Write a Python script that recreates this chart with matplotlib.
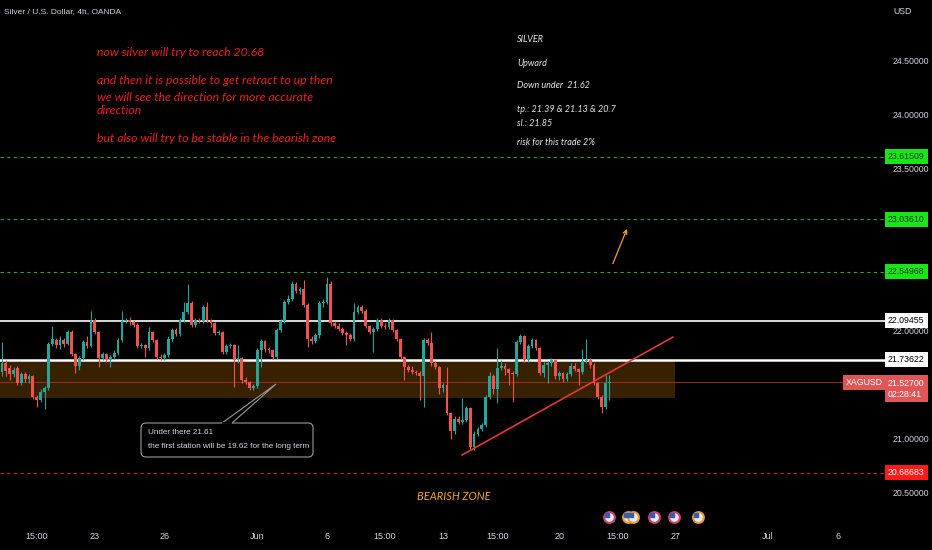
import numpy as np
import matplotlib
matplotlib.use("Agg")
import matplotlib.pyplot as plt
import matplotlib.transforms as mtransforms
from matplotlib.patches import Rectangle, FancyBboxPatch, Polygon

# XAGUSD 4h candles (one row = o, c, h, l)
opens = [21.62, 21.70, 21.66, 21.60, 21.66, 21.52, 21.60, 21.56, 21.58, 21.39,
         21.36, 21.44, 21.47, 21.88, 21.92, 21.87, 21.92, 21.88, 21.99, 21.79,
         21.68, 21.75, 21.90, 21.86, 22.10, 21.99, 21.75, 21.79, 21.73, 21.76,
         21.80, 21.92, 22.09, 22.10, 22.08, 22.06, 21.86, 21.87, 21.84, 21.99,
         21.92, 21.76, 21.75, 21.78, 21.93, 22.01, 21.97, 22.10, 22.18, 22.26,
         22.06, 22.10, 22.09, 22.22, 22.10, 22.07, 21.98, 21.99, 21.81, 21.86,
         21.87, 21.73, 21.75, 21.55, 21.53, 21.47, 21.49, 21.82, 21.91, 21.83,
         21.82, 21.76, 22.01, 22.09, 22.27, 22.30, 22.44, 22.37, 22.39, 22.24,
         21.93, 21.91, 21.96, 22.26, 22.27, 22.44, 22.07, 22.05, 22.02, 21.98,
         21.96, 21.93, 22.18, 22.22, 22.19, 22.05, 21.99, 22.02, 22.10, 22.05,
         22.04, 22.10, 22.01, 21.93, 21.76, 21.67, 21.64, 21.62, 21.61, 21.58,
         21.92, 21.89, 21.70, 21.67, 21.47, 21.50, 21.24, 21.07, 21.19, 21.16,
         21.18, 21.29, 20.93, 21.05, 21.09, 21.13, 21.39, 21.58, 21.46, 21.66,
         21.68, 21.65, 21.61, 21.60, 21.90, 21.95, 21.73, 21.86, 21.92, 21.84,
         21.61, 21.69, 21.70, 21.73, 21.58, 21.61, 21.56, 21.60, 21.68, 21.65,
         21.62, 21.72, 21.73, 21.69, 21.52, 21.39, 21.30, 21.52]
closes = [21.70, 21.63, 21.60, 21.64, 21.52, 21.60, 21.56, 21.58, 21.39, 21.36,
          21.44, 21.47, 21.88, 21.93, 21.87, 21.92, 21.88, 21.99, 21.79, 21.68,
          21.75, 21.90, 21.86, 22.10, 21.99, 21.75, 21.79, 21.73, 21.76, 21.80,
          21.92, 22.09, 22.10, 22.08, 22.06, 21.86, 21.87, 21.84, 21.99, 21.92,
          21.76, 21.75, 21.78, 21.93, 22.01, 21.97, 22.10, 22.18, 22.26, 22.06,
          22.10, 22.09, 22.22, 22.10, 22.07, 21.98, 21.99, 21.81, 21.86, 21.87,
          21.73, 21.75, 21.55, 21.53, 21.47, 21.49, 21.82, 21.91, 21.83, 21.82,
          21.76, 22.01, 22.09, 22.27, 22.30, 22.44, 22.37, 22.39, 22.24, 21.93,
          21.91, 21.96, 22.26, 22.27, 22.44, 22.07, 22.05, 22.02, 21.98, 21.96,
          21.93, 22.18, 22.22, 22.19, 22.05, 21.99, 22.02, 22.10, 22.05, 22.04,
          22.10, 22.01, 21.93, 21.76, 21.67, 21.64, 21.62, 21.61, 21.58, 21.92,
          21.89, 21.70, 21.67, 21.47, 21.50, 21.24, 21.07, 21.19, 21.16, 21.18,
          21.29, 20.93, 21.05, 21.09, 21.13, 21.39, 21.58, 21.46, 21.66, 21.68,
          21.65, 21.61, 21.60, 21.90, 21.95, 21.73, 21.86, 21.92, 21.84, 21.61,
          21.69, 21.70, 21.73, 21.58, 21.61, 21.56, 21.60, 21.68, 21.65, 21.62,
          21.72, 21.73, 21.69, 21.52, 21.39, 21.30, 21.52, 21.527]
highs = [21.90, 21.73, 21.69, 21.67, 21.68, 21.62, 21.62, 21.60, 21.59, 21.41,
         21.46, 21.49, 21.90, 22.05, 21.94, 21.95, 21.94, 22.01, 22.01, 21.80,
         21.77, 21.92, 21.95, 22.19, 22.12, 22.00, 21.81, 21.80, 21.78, 21.82,
         21.94, 22.19, 22.12, 22.13, 22.10, 22.07, 21.89, 21.88, 22.04, 22.00,
         21.93, 21.79, 21.80, 21.95, 22.03, 22.03, 22.12, 22.27, 22.44, 22.28,
         22.12, 22.12, 22.24, 22.27, 22.11, 22.08, 22.01, 22.00, 21.88, 21.89,
         21.88, 21.87, 21.76, 21.57, 21.54, 21.51, 21.84, 21.93, 21.92, 21.85,
         21.83, 22.03, 22.11, 22.29, 22.33, 22.46, 22.45, 22.41, 22.47, 22.26,
         21.95, 21.98, 22.28, 22.30, 22.50, 22.46, 22.09, 22.07, 22.04, 22.00,
         21.98, 22.26, 22.24, 22.24, 22.20, 22.06, 22.04, 22.12, 22.12, 22.07,
         22.12, 22.11, 22.02, 21.94, 21.77, 21.69, 21.68, 21.64, 21.63, 21.94,
         21.94, 21.99, 21.72, 21.68, 21.52, 21.67, 21.25, 21.21, 21.21, 21.38,
         21.31, 21.30, 21.07, 21.11, 21.15, 21.41, 21.62, 21.60, 21.84, 21.73,
         21.70, 21.66, 21.63, 21.92, 21.97, 21.96, 21.88, 21.94, 21.93, 21.85,
         21.71, 21.72, 21.75, 21.74, 21.63, 21.62, 21.62, 21.70, 21.70, 21.66,
         21.83, 21.93, 21.75, 21.70, 21.53, 21.41, 21.59, 21.59]
lows = [21.58, 21.58, 21.55, 21.57, 21.50, 21.50, 21.53, 21.52, 21.37, 21.30,
        21.34, 21.28, 21.45, 21.86, 21.84, 21.83, 21.85, 21.87, 21.77, 21.61,
        21.64, 21.73, 21.84, 21.85, 21.97, 21.67, 21.73, 21.71, 21.67, 21.74,
        21.78, 21.90, 22.07, 22.06, 22.04, 21.84, 21.84, 21.76, 21.82, 21.90,
        21.74, 21.73, 21.73, 21.76, 21.91, 21.95, 21.95, 22.08, 22.16, 22.04,
        22.04, 22.07, 22.07, 22.08, 22.04, 21.96, 21.96, 21.79, 21.79, 21.84,
        21.48, 21.70, 21.52, 21.51, 21.45, 21.45, 21.47, 21.67, 21.81, 21.80,
        21.74, 21.74, 21.99, 22.07, 22.25, 22.28, 22.35, 22.34, 22.22, 21.85,
        21.88, 21.89, 21.94, 22.22, 22.25, 22.05, 22.03, 22.00, 21.96, 21.87,
        21.91, 21.91, 22.16, 22.17, 22.03, 21.97, 21.81, 22.00, 22.03, 22.02,
        22.02, 21.99, 21.91, 21.74, 21.55, 21.62, 21.60, 21.59, 21.36, 21.30,
        21.87, 21.68, 21.65, 21.42, 21.44, 21.22, 21.00, 21.05, 21.14, 21.14,
        21.16, 20.91, 20.90, 21.03, 21.07, 21.11, 21.37, 21.42, 21.33, 21.64,
        21.59, 21.50, 21.34, 21.58, 21.88, 21.71, 21.71, 21.84, 21.82, 21.59,
        21.57, 21.52, 21.68, 21.56, 21.55, 21.53, 21.54, 21.58, 21.63, 21.50,
        21.60, 21.70, 21.66, 21.50, 21.37, 21.24, 21.28, 21.36]

tick_pos = [9, 24, 42, 66, 84, 99, 114, 128, 144, 159, 174, 198, 216]
tick_labels = ['15:00', '23', '26', 'Jun', '6', '15:00', '13', '15:00', '20',
               '15:00', '27', 'Jul', '6']
price_ticks = [24.5, 24.0, 23.5, 22.0, 21.0, 20.5]

green_levels = [23.61509, 23.03610, 22.54968]
white_levels = [22.09455, 21.73622]
last_price = 21.527
target_level = 20.68683
zone_low, zone_high, zone_end = 21.38, 21.73622, 173.9
trend_x = [118.9, 173.4]
trend_y = [20.852, 21.944]
arrow_from = (157.6, 22.60)
arrow_to = (161.8, 22.97)
event_x = [156.8, 161.8, 163.1, 168.5, 173.6, 179.8]
event_edge = ['#d04070', '#e8a030', '#e8a030', '#d04070', '#d04070', '#e8a030']

note_lines = ['now silver will try to reach 20.68',
              'and then it is possible to get retract to up then',
              'we will see the direction for more accurate',
              'direction',
              'but also will try to be stable in the bearish zone']
plan_lines = ['SILVER', 'Upward', 'Down under  21.62',
              'tp.: 21.39 & 21.13 & 20.7', 'sl.: 21.85', 'risk for this trade 2%']

W, H = 932, 550
GREEN = '#26a69a'
RED = '#ef5350'
AXC = '#d1d4dc'

fig = plt.figure(figsize=(W / 100, H / 100), dpi=100, facecolor='black')
ax = fig.add_axes([0, 25 / H, 885 / W, 525 / H])
ax.set_facecolor('black')
ax.set_xlim(-0.5, 228.2)
ax.set_ylim(20.204, 25.065)
for s in ax.spines.values():
    s.set_visible(False)
ax.set_yticks([])
ax.set_xticks(tick_pos, tick_labels)
ax.tick_params(axis='x', length=0, pad=5, labelcolor=AXC, labelsize=6.5)
for t in ax.get_xticklabels():
    t.set_family('Liberation Sans')

# pixel helper (y measured from top like on the screenshot)
pxT = mtransforms.Affine2D().scale(1.0 / W, 1.0 / H) + fig.transFigure
def P(x, y):
    return (x, H - y)
yT = mtransforms.blended_transform_factory(pxT, ax.transData)

# zone + levels
ax.add_patch(Rectangle((-0.5, zone_low), zone_end + 0.5, zone_high - zone_low,
                       facecolor='#ff9800', alpha=0.22, lw=0, zorder=0.5))
for lv in green_levels:
    ax.axhline(lv, color='#2ea043', lw=0.8, ls=(0, (3, 3)), zorder=1)
ax.axhline(white_levels[0], color='white', lw=1.2, zorder=1)
ax.axhline(white_levels[1], color='white', lw=1.8, zorder=1)
ax.axhline(last_price, color='#a83232', lw=0.8, alpha=0.8, zorder=1)
ax.axhline(target_level, color='#c62828', lw=0.8, ls=(0, (3, 3)), zorder=1)

# candles
for i in range(len(opens)):
    o, c, h, l = opens[i], closes[i], highs[i], lows[i]
    col = GREEN if c >= o else RED
    ax.vlines(i, l, h, color=col, lw=0.8, zorder=3)
    ax.bar(i, max(abs(c - o), 0.006), bottom=min(o, c), width=0.72,
           color=col, lw=0, zorder=4)

# trend line and arrow
ax.plot(trend_x, trend_y, color='#e53935', lw=1.2, zorder=5)
ax.annotate('', xy=arrow_to, xytext=arrow_from,
            arrowprops=dict(arrowstyle='->', color='#f0a030', lw=0.9,
                            mutation_scale=7), zorder=5)

# economic event icons
evT = mtransforms.blended_transform_factory(ax.transData, ax.transAxes)
for ex, ec in zip(event_x, event_edge):
    ax.scatter([ex], [0.016], s=60, marker='o', facecolor='#e9e9f2',
               edgecolor=ec, lw=1.5, transform=evT, zorder=6, clip_on=False)
    ax.scatter([ex - 0.5], [0.020], s=6, marker='s', color='#3a5bb0',
               transform=evT, zorder=7, clip_on=False)

# price scale labels
for pt in price_ticks:
    fig.text(893, pt, f'{pt:.5f}', transform=yT, color=AXC, fontsize=6.3,
             family='Liberation Sans', va='center', ha='left')
fig.text(*P(893, 11), 'USD', transform=pxT, color=AXC, fontsize=6.3,
         family='Liberation Sans', va='center', ha='left')

def level_box(y, txt, fc, tc):
    fig.text(888, y, txt, transform=yT, color=tc, fontsize=6.3,
             family='Liberation Sans', va='center', ha='left', zorder=10,
             bbox=dict(boxstyle='square,pad=0.35', fc=fc, ec='none'))

for lv in green_levels:
    level_box(lv, f'{lv:.5f}', '#19e619', '#0c3d0c')
for lv in white_levels:
    level_box(lv, f'{lv:.5f}', 'white', 'black')
level_box(target_level, f'{target_level:.5f}', '#ff1a1a', 'white')
fig.text(888, last_price - 0.06, f'{last_price:.5f}\n02:28:41', transform=yT,
         color='white', fontsize=6.3, family='Liberation Sans', va='center',
         ha='left', zorder=10, linespacing=1.3,
         bbox=dict(boxstyle='square,pad=0.35', fc='#e05656', ec='none'))
fig.text(883, last_price, 'XAGUSD', transform=yT, color='white', fontsize=6.3,
         family='Liberation Sans', va='center', ha='right', zorder=10,
         bbox=dict(boxstyle='square,pad=0.35', fc='#e05656', ec='none'))

# title
fig.text(*P(4, 12), 'Silver / U.S. Dollar, 4h, OANDA', transform=pxT,
         color=AXC, fontsize=6, family='Liberation Sans', va='center')

# red note
for txt, yy in zip(note_lines, [53, 81, 97, 111, 139]):
    fig.text(*P(97, yy), txt, transform=pxT, color='#f01e1e', fontsize=8.8,
             family='Lato', style='italic', va='center')

# plan text
for txt, yy in zip(plan_lines, [40, 63, 86, 109, 124, 143]):
    fig.text(*P(517, yy), txt, transform=pxT, color='#e6e6e6', fontsize=6.5,
             family='Lato', style='italic', va='center')

# bearish zone label
fig.text(*P(417, 497), 'BEARISH ZONE', transform=pxT, color='#f5a623',
         fontsize=8, family='Lato', style='italic', va='center')

# callout
box = FancyBboxPatch(P(141, 457), 172, 34, boxstyle='round,pad=0,rounding_size=5',
                     transform=pxT, fc='black', ec='#9a9a9a', lw=0.8, zorder=8)
fig.add_artist(box)
fig.add_artist(Polygon([P(222, 423), P(276, 384), P(232, 423)], closed=False,
                       transform=pxT, fc='black', ec='#9a9a9a', lw=0.8, zorder=9))
fig.add_artist(plt.Line2D([223, 231], [H - 423, H - 423], transform=pxT,
                          color='black', lw=1.2, zorder=9))
fig.text(*P(148, 433), 'Under there 21.61', transform=pxT, color=AXC,
         fontsize=5.9, family='Liberation Sans', va='center', zorder=10)
fig.text(*P(148, 446), 'the first station will be 19.62 for the long term',
         transform=pxT, color=AXC, fontsize=5.9, family='Liberation Sans',
         va='center', zorder=10)

fig.savefig('out.png', dpi=100, facecolor='black')
